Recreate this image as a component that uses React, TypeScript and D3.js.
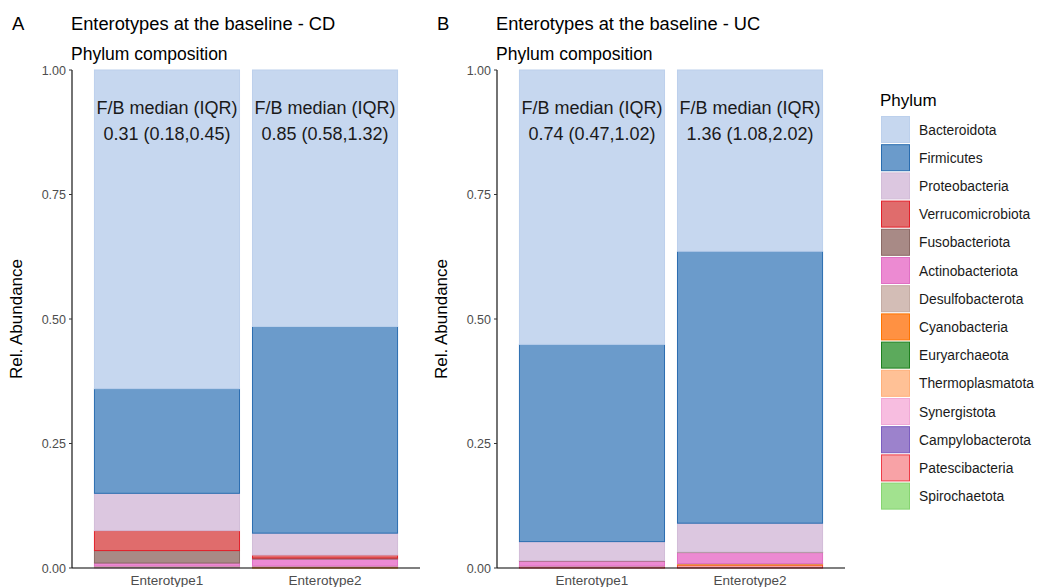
import * as d3 from 'd3';
import React from 'react';

// phyla, top of the stack first (legend order)
const phyla = [
  'Bacteroidota', 'Firmicutes', 'Proteobacteria', 'Verrucomicrobiota', 'Fusobacteriota',
  'Actinobacteriota', 'Desulfobacterota', 'Cyanobacteria', 'Euryarchaeota', 'Thermoplasmatota',
  'Synergistota', 'Campylobacterota', 'Patescibacteria', 'Spirochaetota',
];
const fills = ['#c6d7ef', '#6b9bcb', '#dcc7e0', '#e06c6c', '#a88a86', '#ec8ad2', '#d3bdb6',
  '#ff9142', '#5caa5c', '#ffc196', '#f7bde0', '#9c82cc', '#f8a2a6', '#a2e28f'];
const strokes = ['#bcd0ec', '#2a6db0', '#d2bcd8', '#e3202a', '#8c6a66', '#e070c4', '#c4aca4',
  '#ff7400', '#1f801f', '#ffb07a', '#f0a8d6', '#7d5ec0', '#ee3c48', '#86d470'];

const enterotypes = ['Enterotype1', 'Enterotype2'];

// mean relative abundance per phylum, [Enterotype1, Enterotype2]
const cdValues: Record<string, number[]> = {
  Bacteroidota: [0.64, 0.515],
  Firmicutes: [0.21, 0.415],
  Proteobacteria: [0.075, 0.044],
  Verrucomicrobiota: [0.04, 0.006],
  Fusobacteriota: [0.025, 0.002],
  Actinobacteriota: [0.006, 0.014],
  Desulfobacterota: [0.003, 0.002],
  Cyanobacteria: [0, 0.002],
  Euryarchaeota: [0, 0],
  Thermoplasmatota: [0, 0],
  Synergistota: [0.001, 0],
  Campylobacterota: [0, 0],
  Patescibacteria: [0, 0],
  Spirochaetota: [0, 0],
};
const ucValues: Record<string, number[]> = {
  Bacteroidota: [0.551, 0.364],
  Firmicutes: [0.396, 0.546],
  Proteobacteria: [0.038, 0.058],
  Verrucomicrobiota: [0, 0],
  Fusobacteriota: [0.001, 0.001],
  Actinobacteriota: [0.01, 0.022],
  Desulfobacterota: [0.001, 0.001],
  Cyanobacteria: [0, 0.002],
  Euryarchaeota: [0, 0],
  Thermoplasmatota: [0, 0],
  Synergistota: [0, 0],
  Campylobacterota: [0, 0],
  Patescibacteria: [0.003, 0.006],
  Spirochaetota: [0, 0],
};

const cdRatio = ['0.31 (0.18,0.45)', '0.85 (0.58,1.32)'];
const ucRatio = ['0.74 (0.47,1.02)', '1.36 (1.08,2.02)'];
const yTicks = [0, 0.25, 0.5, 0.75, 1];

const font = '"Liberation Sans", Arial, sans-serif';

const Panel = ({ x0, letter, title, values, ratios }) => {
  const x = d3.scaleBand().domain(enterotypes).range([x0, x0 + 348]).paddingInner(0.082).paddingOuter(0.142);
  const y = d3.scaleLinear().domain([0, 1]).range([568, 70]);

  const rows = enterotypes.map((e, i) => {
    const r: any = { enterotype: e };
    phyla.forEach(p => { r[p] = values[p][i]; });
    return r;
  });
  // bottom of stack = last in legend
  const stack = d3.stack().keys([...phyla].reverse())(rows);

  return (
    <g fontFamily={font}>
      <text x={x0 - 60} y={30} fontSize={18.5} fill="#000">{letter}</text>
      <text x={x0 - 1} y={30} fontSize={18.3} fill="#000">{title}</text>
      <text x={x0 - 1} y={60} fontSize={17.5} fill="#000">Phylum composition</text>

      {stack.map(layer => {
        const k = phyla.indexOf(layer.key);
        return layer.map((d, i) => (
          d[1] - d[0] > 0 ? (
            <rect key={layer.key + i} x={x(enterotypes[i])} width={x.bandwidth()}
              y={y(d[1])} height={y(d[0]) - y(d[1])}
              fill={fills[k]} stroke={strokes[k]} strokeWidth={1} />
          ) : null
        ));
      })}

      {enterotypes.map((e, i) => (
        <g key={e}>
          <text x={x(e) + x.bandwidth() / 2} y={113.5} textAnchor="middle" fontSize={18} fill="#1a1a1a">F/B median (IQR)</text>
          <text x={x(e) + x.bandwidth() / 2} y={140} textAnchor="middle" fontSize={18} fill="#1a1a1a">{ratios[i]}</text>
          <text x={x(e) + x.bandwidth() / 2} y={585} textAnchor="middle" fontSize={13.5} fill="#4d4d4d">{e}</text>
        </g>
      ))}

      <line x1={x0} x2={x0} y1={y(1)} y2={y(0)} stroke="#000" strokeWidth={1.1} />
      <line x1={x0} x2={x0 + 348} y1={y(0)} y2={y(0)} stroke="#000" strokeWidth={1.1} />
      {yTicks.map(t => (
        <g key={t}>
          <line x1={x0 - 3} x2={x0} y1={y(t)} y2={y(t)} stroke="#333" />
          <text x={x0 - 6} y={y(t) + 4.5} textAnchor="end" fontSize={12.5} fill="#4d4d4d">{t.toFixed(2)}</text>
        </g>
      ))}
      <text transform={`translate(${x0 - 50},${y(0.5)}) rotate(-90)`} textAnchor="middle" fontSize={17} fill="#000">Rel. Abundance</text>
    </g>
  );
};

const App = () => {
  return (
    <svg width={1041} height={587} style={{ position: 'absolute', left: 0, top: 0, background: '#fff' }}>
      <Panel x0={72} letter="A" title="Enterotypes at the baseline - CD" values={cdValues} ratios={cdRatio} />
      <Panel x0={497} letter="B" title="Enterotypes at the baseline - UC" values={ucValues} ratios={ucRatio} />

      <g fontFamily={font}>
        <text x={880} y={106} fontSize={17} fill="#000">Phylum</text>
        {phyla.map((p, i) => (
          <g key={p} transform={`translate(881,${116 + i * 28.2})`}>
            <rect x={0.5} y={0.5} width={28} height={26} fill={fills[i]} stroke={strokes[i]} />
            <text x={38} y={18.5} fontSize={13.8} fill="#1a1a1a">{p}</text>
          </g>
        ))}
      </g>
    </svg>
  );
};

export default App;
